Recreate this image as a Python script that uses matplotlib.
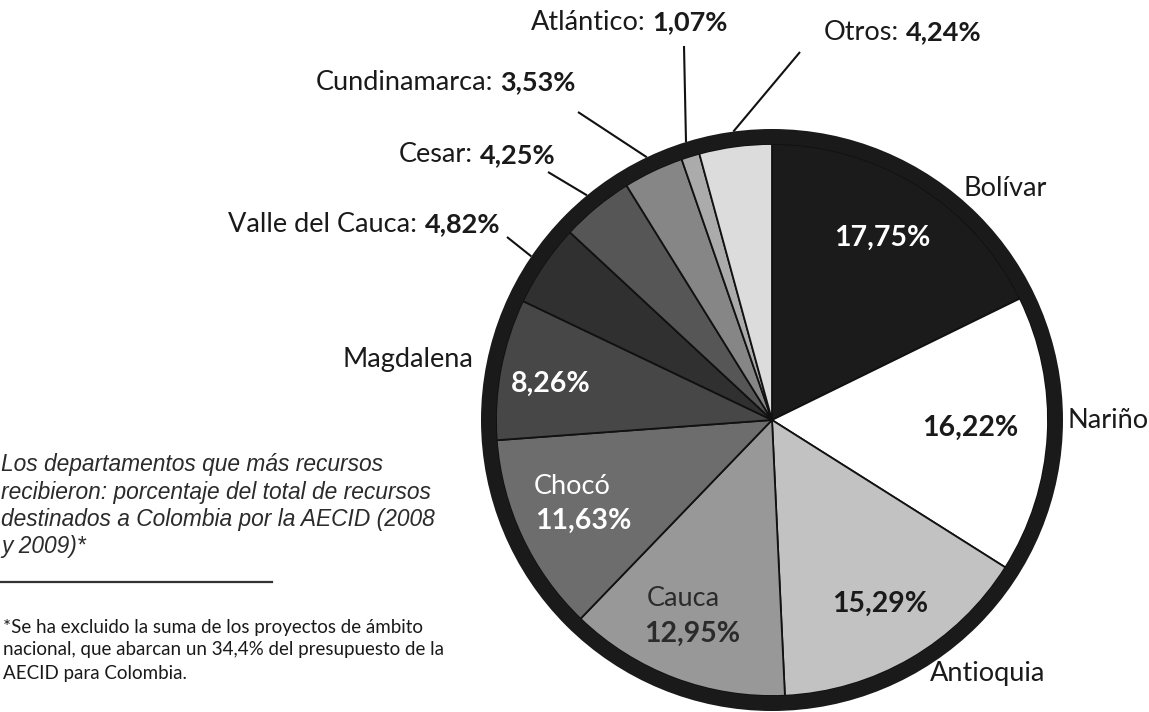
import numpy as np
import matplotlib.pyplot as plt
from matplotlib.patches import Circle

# data
departamentos = ['Bolívar', 'Nariño', 'Antioquia', 'Cauca', 'Chocó', 'Magdalena',
                 'Valle del Cauca', 'Cesar', 'Cundinamarca', 'Atlántico', 'Otros']
porcentajes = [17.75, 16.22, 15.29, 12.95, 11.63, 8.26, 4.82, 4.25, 3.53, 1.07, 4.24]
grises = ['#1b1b1b', '#ffffff', '#c2c2c2', '#989898', '#6d6d6d', '#474747',
          '#303030', '#565656', '#868686', '#ababab', '#dcdcdc']

titulo = ['Los departamentos que más recursos',
          'recibieron: porcentaje del total de recursos',
          'destinados a Colombia por la AECID (2008',
          'y 2009)*']
nota = ['*Se ha excluido la suma de los proyectos de ámbito',
        'nacional, que abarcan un 34,4% del presupuesto de la',
        'AECID para Colombia.']

def fmt(v):
    return ('%.2f%%' % v).replace('.', ',')

W, H = 1149, 712
fig = plt.figure(figsize=(W / 100, H / 100), dpi=100)
ax = fig.add_axes([0, 0, 1, 1])

cx, cy, r_in, r_out = 772, 420, 276, 291
wedges, _ = ax.pie(porcentajes, colors=grises, startangle=-90, counterclock=True,
                   center=(cx, cy), radius=r_in,
                   wedgeprops=dict(edgecolor='#111111', linewidth=1.3))
ax.add_patch(Circle((cx, cy), (r_in + r_out) / 2, fill=False,
                    edgecolor='#1a1a1a', linewidth=(r_out - r_in) * 0.72))
ax.set_xlim(0, W)
ax.set_ylim(H, 0)
ax.set_aspect('equal')
ax.axis('off')

FONT = ['Lato', 'DejaVu Sans']
LBL = 19.5

# labels inside / next to the big slices
inside = {
    'Bolívar': dict(name=(1005, 188, '#1a1a1a'), pct=(882, 238, 'white')),
    'Nariño': dict(name=(1108, 420, '#1a1a1a'), pct=(970, 428, '#1a1a1a')),
    'Antioquia': dict(name=(988, 673, '#1a1a1a'), pct=(880, 604, '#1a1a1a')),
    'Cauca': dict(name=(683, 598, '#2b2b2b'), pct=(692, 634, '#2b2b2b')),
    'Chocó': dict(name=(572, 486, 'white'), pct=(583, 521, 'white')),
    'Magdalena': dict(name=(408, 360, '#1a1a1a'), pct=(551, 384, 'white')),
}
for nombre, v in zip(departamentos, porcentajes):
    if nombre in inside:
        nx, ny, nc = inside[nombre]['name']
        px, py, pc = inside[nombre]['pct']
        ax.text(nx, ny, nombre, ha='center', va='center', fontsize=LBL,
                color=nc, family=FONT)
        ax.text(px, py, fmt(v), ha='center', va='center', fontsize=LBL + 1,
                color=pc, family=FONT, fontweight='bold')

# small slices with leader lines: (label right edge x, label y, line start x, y)
outside = {
    'Valle del Cauca': (500, 224, 507, 237),
    'Cesar': (556, 155, 548, 172),
    'Cundinamarca': (576, 82, 578, 112),
    'Atlántico': (728, 22, 684, 46),
    'Otros': (982, 32, 800, 52),
}
for w, nombre, v in zip(wedges, departamentos, porcentajes):
    if nombre not in outside:
        continue
    tx, ty, lx, ly = outside[nombre]
    ang = np.deg2rad((w.theta1 + w.theta2) / 2)
    ex, ey = cx + r_out * np.cos(ang), cy + r_out * np.sin(ang)
    ax.plot([lx, ex], [ly, ey], color='#111111', lw=1.5, solid_capstyle='butt')
    t_pct = ax.text(tx, ty, fmt(v), ha='right', va='center', fontsize=LBL,
                    color='#1a1a1a', family=FONT, fontweight='bold')
    fig.canvas.draw()
    bb = t_pct.get_window_extent()
    x0 = ax.transData.inverted().transform((bb.x0, 0))[0]
    ax.text(x0 - 7, ty, nombre + ':', ha='right', va='center', fontsize=LBL,
            color='#1a1a1a', family=FONT)

# title block
for i, linea in enumerate(titulo):
    ax.text(1, 465 + i * 27.3, linea, ha='left', va='center', fontsize=16.4,
            style='italic', family=['Liberation Sans', 'DejaVu Sans'], color='#2b2b2b')

ax.plot([0, 272], [582, 582], color='#333333', lw=1.6)

for i, linea in enumerate(nota):
    ax.text(3, 627 + i * 23, linea, ha='left', va='center', fontsize=13.5,
            family=FONT, color='#1a1a1a')

fig.savefig('out.png', dpi=100)
